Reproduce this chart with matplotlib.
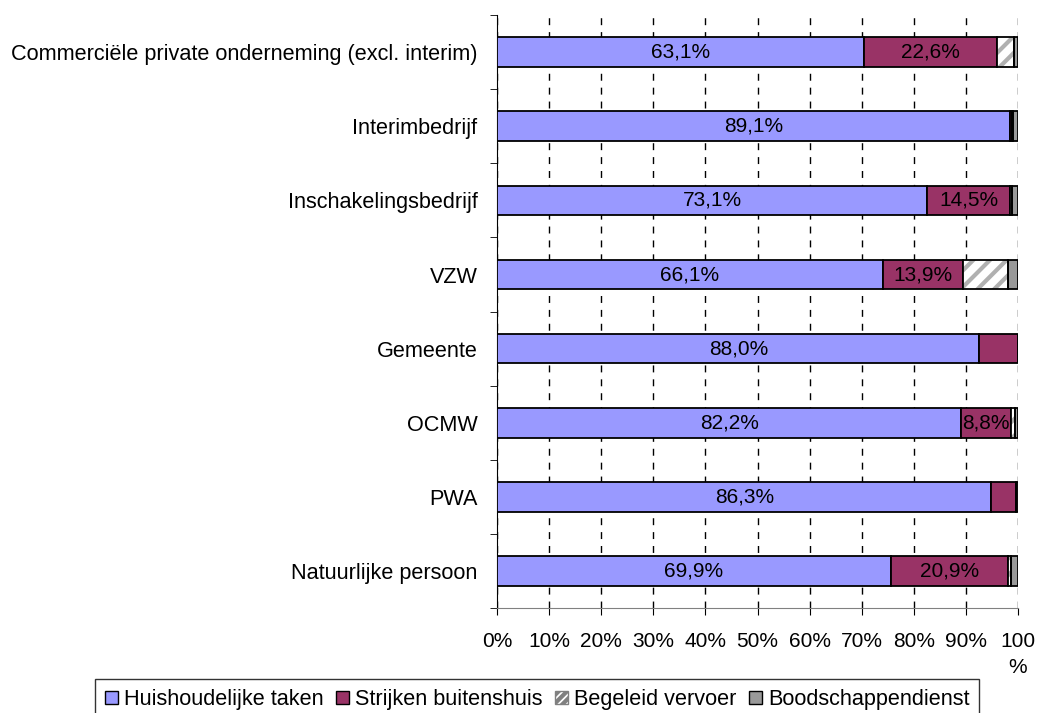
import numpy as np
import matplotlib.pyplot as plt

plt.rcParams['font.family'] = ['Liberation Sans', 'DejaVu Sans']
plt.rcParams['hatch.linewidth'] = 3.0

categories = ["Commerciële private onderneming (excl. interim)", "Interimbedrijf",
              "Inschakelingsbedrijf", "VZW", "Gemeente", "OCMW", "PWA",
              "Natuurlijke persoon"]
series = ["Huishoudelijke taken", "Strijken buitenshuis", "Begeleid vervoer", "Boodschappendienst"]

# segment widths (share of bar, %)
huishoud = [70.5, 98.5, 82.5, 74.0, 92.6, 89.1, 94.9, 75.6]
strijken = [25.4, 0.3, 16.0, 15.4, 7.4, 9.5, 4.7, 22.5]
vervoer = [3.4, 0.2, 0.3, 8.6, 0.0, 0.9, 0.0, 0.5]
boodsch = [0.7, 1.0, 1.2, 2.0, 0.0, 0.5, 0.4, 1.4]

# printed labels
lab_huis = ["63,1%", "89,1%", "73,1%", "66,1%", "88,0%", "82,2%", "86,3%", "69,9%"]
lab_strijk = ["22,6%", "", "14,5%", "13,9%", "", "8,8%", "", "20,9%"]

colors = ['#9999FF', '#993366', 'white', '#999999']
hatches = [None, None, '//', None]
fs = 15

fig = plt.figure(figsize=(10.37, 7.13), dpi=100)
ax = fig.add_axes([0.4793, 0.147, 0.5024, 0.832])

y = np.arange(len(categories))[::-1]
data = [huishoud, strijken, vervoer, boodsch]
left = np.zeros(len(categories))
handles = []
for vals, col, h, name in zip(data, colors, hatches, series):
    vals = np.array(vals)
    if h:
        # grey hatch first, black outline on top
        ax.barh(y, vals, left=left, height=0.4, color=col, edgecolor='#b0b0b0',
                linewidth=0, hatch=h, zorder=3)
        ax.barh(y, vals, left=left, height=0.4, fill=False, edgecolor='black',
                linewidth=1.3, zorder=3.5)
        handles.append(plt.Rectangle((0, 0), 1, 1, facecolor='white', edgecolor='#808080',
                                     hatch='////', linewidth=1))
    else:
        ax.barh(y, vals, left=left, height=0.4, color=col, edgecolor='black',
                linewidth=1.3, zorder=3)
        handles.append(plt.Rectangle((0, 0), 1, 1, facecolor=col, edgecolor='black', linewidth=1))
    left = left + vals

# data labels
for i in range(len(categories)):
    ax.text(huishoud[i] / 2, y[i], lab_huis[i], ha='center', va='center', fontsize=fs, zorder=4)
    if lab_strijk[i]:
        ax.text(huishoud[i] + strijken[i] / 2, y[i], lab_strijk[i], ha='center', va='center',
                fontsize=fs, zorder=4)

ax.set_xlim(0, 100)
ax.set_ylim(-0.5, len(categories) - 0.5)
xt = np.arange(0, 101, 10)
ax.set_xticks(xt)
ax.set_xticklabels([f"{v}%" for v in xt[:-1]] + ["100\n%"], fontsize=fs, va='top', linespacing=1.5)
ax.set_yticks(y)
ax.set_yticklabels(categories, fontsize=15.6)
ax.set_yticks(np.arange(-0.5, len(categories), 1), minor=True)
ax.tick_params(axis='y', which='major', length=0, pad=14)
ax.tick_params(axis='y', which='minor', length=5, direction='out')
ax.tick_params(axis='x', length=5, direction='out', pad=12)
ax.xaxis.grid(True, linestyle=(0, (5, 5)), color='black', linewidth=1, zorder=0)
ax.set_axisbelow(True)
for s in ['top', 'right']:
    ax.spines[s].set_visible(False)
ax.spines['left'].set_color('black')
ax.spines['bottom'].set_color('#808080')

leg = fig.legend(handles=handles, labels=series, loc='upper center', bbox_to_anchor=(0.518, 0.047),
                 ncol=4, fontsize=15.6, frameon=True, fancybox=False, edgecolor='black',
                 handlelength=0.6, handleheight=0.6, handletextpad=0.3, columnspacing=0.55,
                 borderpad=0.45, borderaxespad=0)
leg.get_frame().set_linewidth(1)

fig.savefig('out.png', dpi=100)
